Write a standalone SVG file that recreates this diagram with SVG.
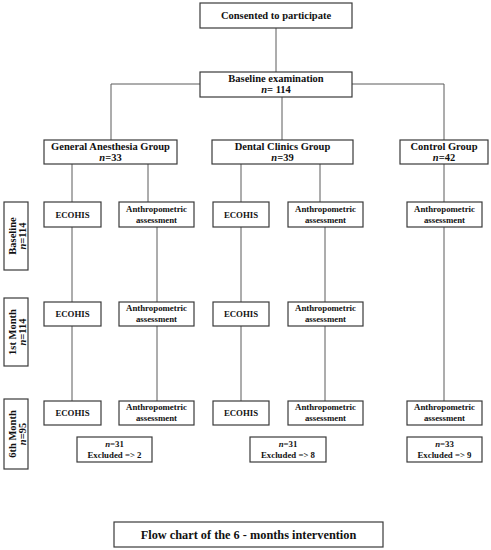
<svg xmlns="http://www.w3.org/2000/svg" width="491" height="550" viewBox="0 0 491 550">
<style>
.box{fill:#fff;stroke:#3a3a3a;stroke-width:1.2}
.ln{stroke:#5a5a5a;stroke-width:1;fill:none}
text{font-family:"Liberation Serif","Times New Roman",serif;font-weight:bold;fill:#111;text-anchor:middle}
.t1{font-size:10.5px}
.t2{font-size:8.8px}
.t3{font-size:12.3px}
.it{font-style:italic}
</style>
<rect width="491" height="550" fill="#fff"/>
<g id="connectors">
<path class="ln" d="M276 28V72"/>
<path class="ln" d="M200 84H111V140M352 84H444V140M282 97V140"/>
<path class="ln" d="M72 164V202M148 164V202M241 164V202M320 164V202M444 164V202"/>
<path class="ln" d="M72 227V302M157 227V302M241 227V302M325 227V302M444 227V401"/>
<path class="ln" d="M72 326V401M157 326V401M241 326V401M325 326V401"/>
</g>
<g id="consented"><rect class="box" x="200" y="3" width="152" height="25"/><text class="t1" x="276" y="19">Consented to participate</text></g>
<g id="baseline-exam"><rect class="box" x="200" y="72" width="152" height="25"/><text class="t1" x="276" y="82">Baseline examination</text><text class="t1" x="276" y="93"><tspan class="it">n</tspan>= 114</text></g>
<g id="ga-group"><rect class="box" x="44" y="140" width="133" height="24"/><text class="t1" x="110.5" y="150">General Anesthesia Group</text><text class="t1" x="110.5" y="161"><tspan class="it">n</tspan>=33</text></g>
<g id="dc-group"><rect class="box" x="212" y="140" width="141" height="24"/><text class="t1" x="282.5" y="150">Dental Clinics Group</text><text class="t1" x="282.5" y="161"><tspan class="it">n</tspan>=39</text></g>
<g id="ctrl-group"><rect class="box" x="400" y="140" width="88" height="24"/><text class="t1" x="444" y="150">Control Group</text><text class="t1" x="444" y="161"><tspan class="it">n</tspan>=42</text></g>

<g id="lbl-baseline"><rect class="box" x="4" y="202" width="24" height="68"/><text class="t1" transform="translate(16,236) rotate(-90)">Baseline</text><text class="t1" transform="translate(26,236) rotate(-90)"><tspan class="it">n</tspan>=114</text></g>
<g id="lbl-1st"><rect class="box" x="4" y="298" width="24" height="68"/><text class="t1" transform="translate(16,332) rotate(-90)">1st Month</text><text class="t1" transform="translate(26,332) rotate(-90)"><tspan class="it">n</tspan>=114</text></g>
<g id="lbl-6th"><rect class="box" x="4" y="399" width="24" height="70"/><text class="t1" transform="translate(16,434) rotate(-90)">6th Month</text><text class="t1" transform="translate(26,434) rotate(-90)"><tspan class="it">n</tspan>=95</text></g>

<g id="r1-ecohis-ga"><rect class="box" x="44" y="202" width="57" height="25"/><text class="t2" x="72.5" y="218">ECOHIS</text></g>
<g id="r1-anthro-ga"><rect class="box" x="119" y="202" width="75" height="25"/><text class="t2" x="156.5" y="212">Anthropometric</text><text class="t2" x="156.5" y="223">assessment</text></g>
<g id="r1-ecohis-dc"><rect class="box" x="213" y="202" width="56" height="25"/><text class="t2" x="241" y="218">ECOHIS</text></g>
<g id="r1-anthro-dc"><rect class="box" x="288" y="202" width="75" height="25"/><text class="t2" x="325.5" y="212">Anthropometric</text><text class="t2" x="325.5" y="223">assessment</text></g>
<g id="r1-anthro-ctrl"><rect class="box" x="407" y="202" width="75" height="25"/><text class="t2" x="444.5" y="212">Anthropometric</text><text class="t2" x="444.5" y="223">assessment</text></g>

<g id="r2-ecohis-ga"><rect class="box" x="44" y="302" width="57" height="24"/><text class="t2" x="72.5" y="317">ECOHIS</text></g>
<g id="r2-anthro-ga"><rect class="box" x="119" y="302" width="75" height="24"/><text class="t2" x="156.5" y="311">Anthropometric</text><text class="t2" x="156.5" y="322">assessment</text></g>
<g id="r2-ecohis-dc"><rect class="box" x="213" y="302" width="56" height="24"/><text class="t2" x="241" y="317">ECOHIS</text></g>
<g id="r2-anthro-dc"><rect class="box" x="288" y="302" width="75" height="24"/><text class="t2" x="325.5" y="311">Anthropometric</text><text class="t2" x="325.5" y="322">assessment</text></g>

<g id="r3-ecohis-ga"><rect class="box" x="44" y="401" width="57" height="24"/><text class="t2" x="72.5" y="416">ECOHIS</text></g>
<g id="r3-anthro-ga"><rect class="box" x="119" y="401" width="75" height="24"/><text class="t2" x="156.5" y="410">Anthropometric</text><text class="t2" x="156.5" y="421">assessment</text></g>
<g id="r3-ecohis-dc"><rect class="box" x="213" y="401" width="56" height="24"/><text class="t2" x="241" y="416">ECOHIS</text></g>
<g id="r3-anthro-dc"><rect class="box" x="288" y="401" width="75" height="24"/><text class="t2" x="325.5" y="410">Anthropometric</text><text class="t2" x="325.5" y="421">assessment</text></g>
<g id="r3-anthro-ctrl"><rect class="box" x="407" y="401" width="75" height="24"/><text class="t2" x="444.5" y="410">Anthropometric</text><text class="t2" x="444.5" y="421">assessment</text></g>

<g id="res-ga"><rect class="box" x="77" y="437" width="75" height="25"/><text class="t2" x="114.5" y="447"><tspan class="it">n</tspan>=31</text><text class="t2" x="114.5" y="458">Excluded =&gt; 2</text></g>
<g id="res-dc"><rect class="box" x="250" y="437" width="76" height="25"/><text class="t2" x="288" y="447"><tspan class="it">n</tspan>=31</text><text class="t2" x="288" y="458">Excluded =&gt; 8</text></g>
<g id="res-ctrl"><rect class="box" x="407" y="437" width="75" height="25"/><text class="t2" x="444.5" y="447"><tspan class="it">n</tspan>=33</text><text class="t2" x="444.5" y="458">Excluded =&gt; 9</text></g>

<g id="caption"><rect class="box" x="114" y="522" width="269" height="25"/><text class="t3" x="248.5" y="539">Flow chart of the 6 - months intervention</text></g>
</svg>
